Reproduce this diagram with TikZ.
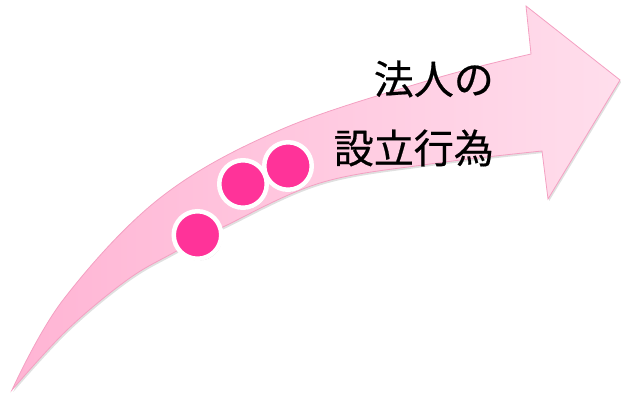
\documentclass[tikz,border=0pt]{standalone}
\usepackage{fontspec}
\newfontfamily\jp[FakeBold=0.5]{Noto Sans CJK JP}
\usetikzlibrary{shadows}
\definecolor{tailpink}{RGB}{255,180,212}
\definecolor{headpink}{RGB}{255,222,236}
\definecolor{edgepink}{RGB}{244,160,194}
\definecolor{dotpink}{RGB}{255,51,153}
\tikzset{
  bigarrow/.style={draw=edgepink, line width=0.8pt, left color=tailpink, right color=headpink, line join=miter},
  dot/.style={circle, minimum size=47.5pt, inner sep=0pt, fill=dotpink, draw=white, line width=4.5pt,
    drop shadow={shadow xshift=1.2pt, shadow yshift=-1.8pt, opacity=0.25, fill=black}},
  label/.style={font=\jp\fontsize{40}{48}\selectfont, inner sep=0pt, anchor=east}
}
\begin{document}
\begin{tikzpicture}[x=1pt,y=1pt]
\useasboundingbox (0,0) rectangle (621,-393);
% shadow of the arrow
\fill[black, opacity=0.12, xshift=1.2pt, yshift=-2pt]
  plot[smooth, tension=0.6] coordinates {(12,-390) (63,-300) (160,-198) (280,-130) (430,-80) (531,-54)}
  -- (526,-6) -- (620,-80) -- (548,-199) -- (542,-151)
  -- plot[smooth, tension=0.6] coordinates {(542,-151) (430,-164) (320,-183) (223,-227) (173,-253) (127,-280) (67,-330) (12,-390)} -- cycle;
% the arrow
\path[bigarrow]
  plot[smooth, tension=0.6] coordinates {(12,-390) (63,-300) (160,-198) (280,-130) (430,-80) (531,-54)}
  -- (526,-6) -- (620,-80) -- (548,-199) -- (542,-151)
  -- plot[smooth, tension=0.6] coordinates {(542,-151) (430,-164) (320,-183) (223,-227) (173,-253) (127,-280) (67,-330) (12,-390)} -- cycle;
% dots
\node[dot] (d1) at (197.5,-235) {};
\node[dot] (d2) at (243,-184) {};
\node[dot] (d3) at (288,-166) {};
% text
\node[label] (t1) at (494,-79) {法人の};
\node[label] (t2) at (494,-148) {設立行為};
\end{tikzpicture}
\end{document}
